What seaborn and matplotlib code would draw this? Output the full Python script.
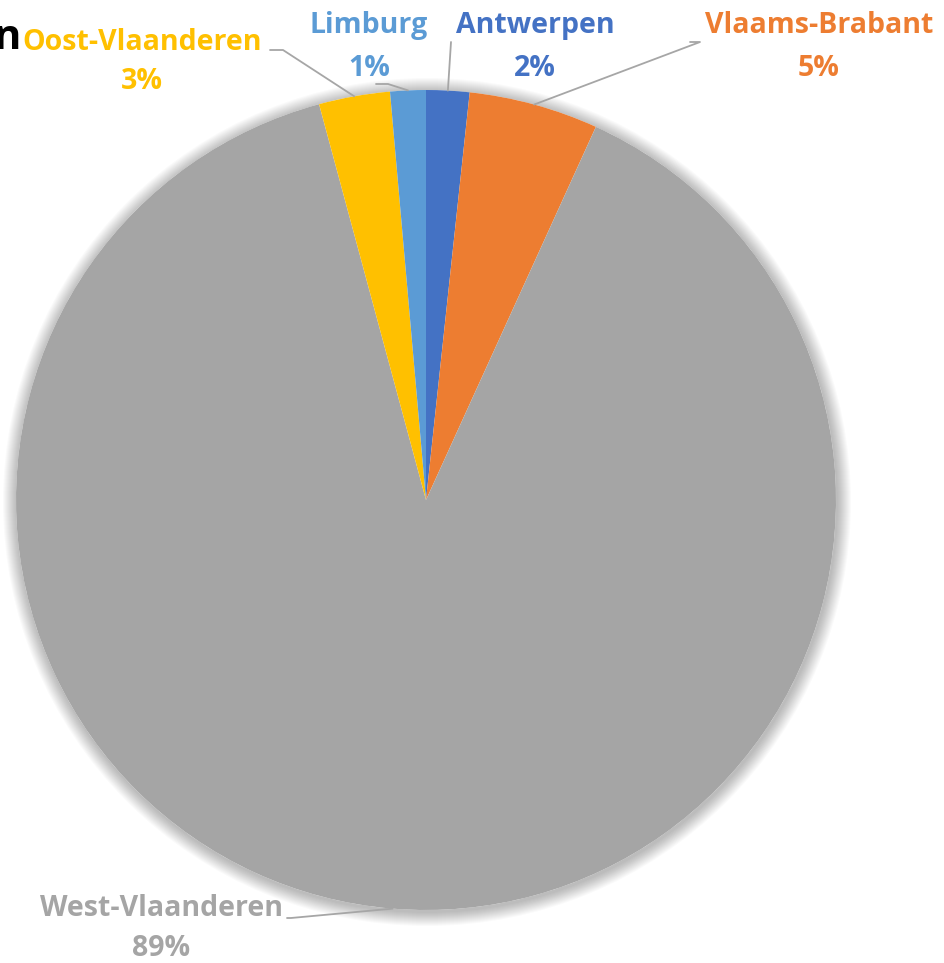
import numpy as np
import matplotlib
matplotlib.use("Agg")
import matplotlib.pyplot as plt
from matplotlib.patches import Circle
import seaborn as sns

# Share per province (%), in clockwise order starting at 12 o'clock
provinces = ["Antwerpen", "Vlaams-Brabant", "West-Vlaanderen", "Oost-Vlaanderen", "Limburg"]
shares = [1.7, 5.1, 89.0, 2.8, 1.4]
colors = ["#4472C4", "#ED7D31", "#A5A5A5", "#FFC000", "#5B9BD5"]

# label layout (pixel coords, y from top): name centre, gap to the % line, leader elbow
label_pos = {
    "Antwerpen": (535, 25, 43),
    "Vlaams-Brabant": (819, 25, 43),
    "West-Vlaanderen": (161, 909, 39),
    "Oost-Vlaanderen": (142, 42, 39),
    "Limburg": (369, 25, 43),
}
elbows = {
    "Antwerpen": [(451, 42)],
    "Vlaams-Brabant": [(700, 42), (690, 42)],
    "West-Vlaanderen": [(291, 918), (287, 918)],
    "Oost-Vlaanderen": [(283, 50), (270, 50)],
    "Limburg": [(388, 84), (376, 84)],
}

sns.set_theme(style="white")
plt.rcParams["font.family"] = ["Open Sans", "DejaVu Sans"]

W, H = 945, 963
fig = plt.figure(figsize=(W / 100, H / 100), dpi=100)
ax = fig.add_axes([0, 0, 1, 1])

cx, cy, R = 426, H - 500, 410

# soft shadow round the pie
for i in range(14):
    ax.add_patch(Circle((cx + 1, cy - 2), R + 1 + i * 1.0, color="black",
                        alpha=0.018, lw=0, zorder=0))
ax.add_patch(Circle((cx, cy), R, color="white", lw=0, zorder=0.5))

wedges, _ = ax.pie(shares, colors=colors, startangle=90, counterclock=False,
                   center=(cx, cy), radius=R, frame=True,
                   wedgeprops=dict(linewidth=0))
ax.set_xlim(0, W)
ax.set_ylim(0, H)
ax.axis("off")

for w, name, val, col in zip(wedges, provinces, shares, colors):
    mid = np.deg2rad((w.theta1 + w.theta2) / 2)
    ax_x, ax_y = cx + R * np.cos(mid), cy + R * np.sin(mid)
    pts = [(ax_x, ax_y)] + [(x, H - y) for x, y in elbows[name]]
    xs, ys = zip(*pts)
    ax.plot(xs, ys, color="#A6A6A6", lw=1.3, zorder=3)
    tx, ty, gap = label_pos[name]
    ax.text(tx, H - ty, name, color=col, fontsize=20.5, fontweight="bold",
            ha="center", va="center")
    ax.text(tx, H - ty - gap, f"{val:.0f}%", color=col, fontsize=20.5,
            fontweight="bold", ha="center", va="center")

# truncated chart title at the top-left edge
ax.text(21, H - 38, "n", color="black", fontsize=30, fontweight="bold",
        ha="right", va="center")

fig.savefig("out.png", dpi=100, facecolor="white")
